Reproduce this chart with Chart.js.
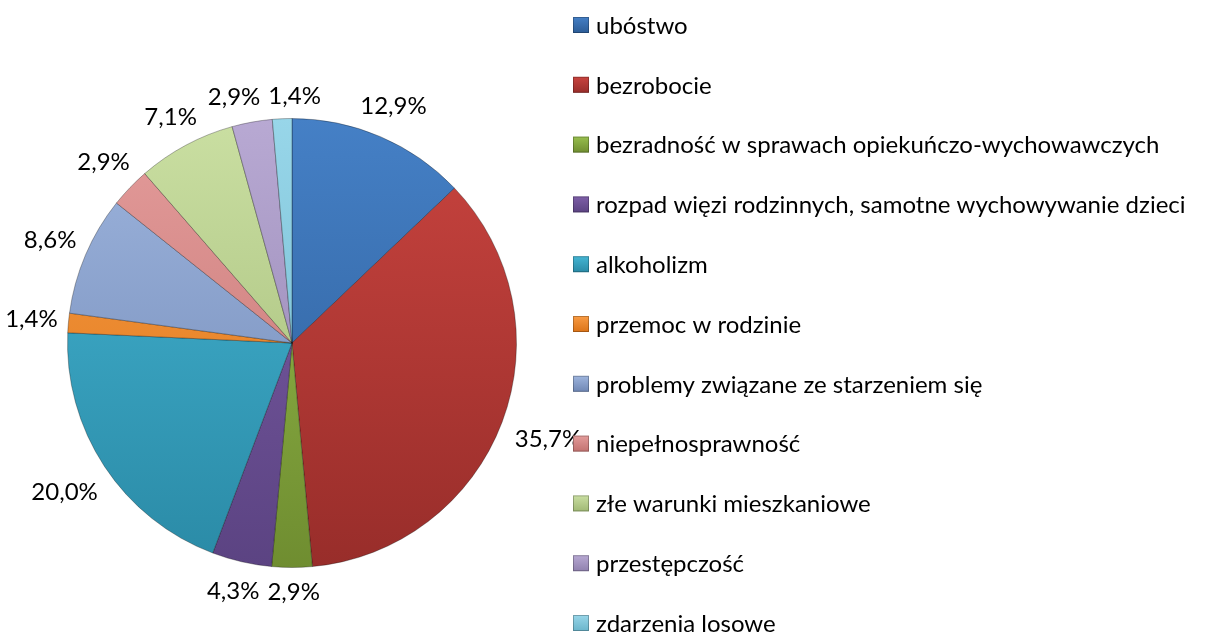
<!DOCTYPE html>
<html>
<head>
<meta charset="utf-8">
<script src="https://cdn.jsdelivr.net/npm/chart.js@4.4.0/dist/chart.umd.min.js"></script>
<style>
    html, body { margin: 0; padding: 0; background: #fff; }
    #wrap { width: 1206px; height: 632px; position: relative; }
</style>
</head>
<body>
<div id="wrap"><canvas id="problemyChart"></canvas></div>
<script>
// Dane wykresu
const kategorie = [
    'ubóstwo',
    'bezrobocie',
    'bezradność w sprawach opiekuńczo-wychowawczych',
    'rozpad więzi rodzinnych, samotne wychowywanie dzieci',
    'alkoholizm',
    'przemoc w rodzinie',
    'problemy związane ze starzeniem się',
    'niepełnosprawność',
    'złe warunki mieszkaniowe',
    'przestępczość',
    'zdarzenia losowe'
];
const udzialy = [12.9, 35.7, 2.9, 4.3, 20.0, 1.4, 8.6, 2.9, 7.1, 2.9, 1.4];

// Kolory (jasny u góry, ciemny u dołu)
const koloryGora = ['#4580C6', '#C9443F', '#98BF4E', '#7E5FA8', '#45B6D4', '#F99C44',
                    '#9EB5DE', '#E49C9B', '#CADFA2', '#B8A9D3', '#98D6E9'];
const koloryDol  = ['#2C5C96', '#982D2A', '#6F8D30', '#5B4382', '#2A8AA6', '#DB7418',
                    '#6F87B4', '#C27270', '#A0B874', '#9081AE', '#6BB5CB'];

const FONT = '24px Lato, "Open Sans", sans-serif';

function formatPct(v) {
    return v.toFixed(1).replace('.', ',') + '%';
}

// Gradient pionowy dla wycinka
function gradientWycinka(context) {
    const chart = context.chart;
    const area = chart.chartArea;
    const i = context.dataIndex;
    if (!area) return koloryGora[i];
    const g = chart.ctx.createLinearGradient(0, area.top, 0, area.bottom);
    g.addColorStop(0, koloryGora[i]);
    g.addColorStop(1, koloryDol[i]);
    return g;
}

// Plugin: etykiety procentowe poza wykresem
const etykietyPlugin = {
    id: 'etykiety',
    afterDatasetsDraw: (chart) => {
        const ctx = chart.ctx;
        const meta = chart.getDatasetMeta(0);
        ctx.save();
        ctx.font = FONT;
        ctx.fillStyle = '#000';
        ctx.textAlign = 'center';
        ctx.textBaseline = 'middle';
        const boxy = meta.data.map((arc, i) => {
            const p = arc.getProps(['x', 'y', 'startAngle', 'endAngle', 'outerRadius'], true);
            const a = (p.startAngle + p.endAngle) / 2;
            const txt = formatPct(udzialy[i]);
            const w = ctx.measureText(txt).width;
            const h = 22;
            const cx = Math.cos(a), cy = Math.sin(a);
            // etykiety na dole nieco dalej od wykresu (jak w Excelu)
            const off = cy > 0 ? 14 : 10;
            const r = p.outerRadius + off + Math.abs(cx) * w / 2 + Math.abs(cy) * h / 2;
            return { txt, w, h, x: p.x + cx * r, y: p.y + cy * r };
        });
        // proste rozsuwanie nakładających się etykiet
        for (let n = 0; n < 20; n++) {
            for (let i = 0; i < boxy.length; i++) {
                for (let j = i + 1; j < boxy.length; j++) {
                    const a = boxy[i], b = boxy[j];
                    const needX = (a.w + b.w) / 2 + 8;
                    const needY = (a.h + b.h) / 2;
                    const dx = b.x - a.x, dy = b.y - a.y;
                    if (Math.abs(dx) < needX && Math.abs(dy) < needY) {
                        const s = (needX - Math.abs(dx)) / 2 * (dx >= 0 ? 1 : -1);
                        a.x -= s;
                        b.x += s;
                    }
                }
            }
        }
        boxy.forEach(b => ctx.fillText(b.txt, b.x, b.y));
        ctx.restore();
    }
};

// Plugin: legenda po prawej stronie
const legendaPlugin = {
    id: 'legenda',
    afterDraw: (chart) => {
        const ctx = chart.ctx;
        const x0 = 573, y0 = 25, krok = 59.8, bok = 16;
        ctx.save();
        ctx.font = FONT;
        ctx.fillStyle = '#000';
        ctx.textAlign = 'left';
        ctx.textBaseline = 'middle';
        chart.data.labels.forEach((lbl, i) => {
            const y = y0 + i * krok;
            const g = ctx.createLinearGradient(0, y - bok / 2, 0, y + bok / 2);
            g.addColorStop(0, koloryGora[i]);
            g.addColorStop(1, koloryDol[i]);
            ctx.fillStyle = g;
            ctx.fillRect(x0, y - bok / 2, bok, bok);
            ctx.strokeStyle = 'rgba(0,0,0,0.25)';
            ctx.lineWidth = 1;
            ctx.strokeRect(x0 + 0.5, y - bok / 2 + 0.5, bok - 1, bok - 1);
            ctx.fillStyle = '#000';
            ctx.fillText(lbl, x0 + bok + 7, y + 1);
        });
        ctx.restore();
    }
};

document.addEventListener('DOMContentLoaded', function() {
    const canvas = document.getElementById('problemyChart');
    const ctx = canvas.getContext('2d');
    new Chart(ctx, {
        type: 'pie',
        data: {
            labels: kategorie,
            datasets: [{
                data: udzialy,
                backgroundColor: gradientWycinka,
                borderColor: 'rgba(0,0,0,0.3)',
                borderWidth: 1
            }]
        },
        options: {
            responsive: true,
            maintainAspectRatio: false,
            animation: false,
            layout: {
                padding: { left: 67, top: 118, right: 689, bottom: 64 }
            },
            plugins: {
                legend: { display: false },
                tooltip: { enabled: false }
            }
        },
        plugins: [etykietyPlugin, legendaPlugin]
    });
});
</script>
</body>
</html>
